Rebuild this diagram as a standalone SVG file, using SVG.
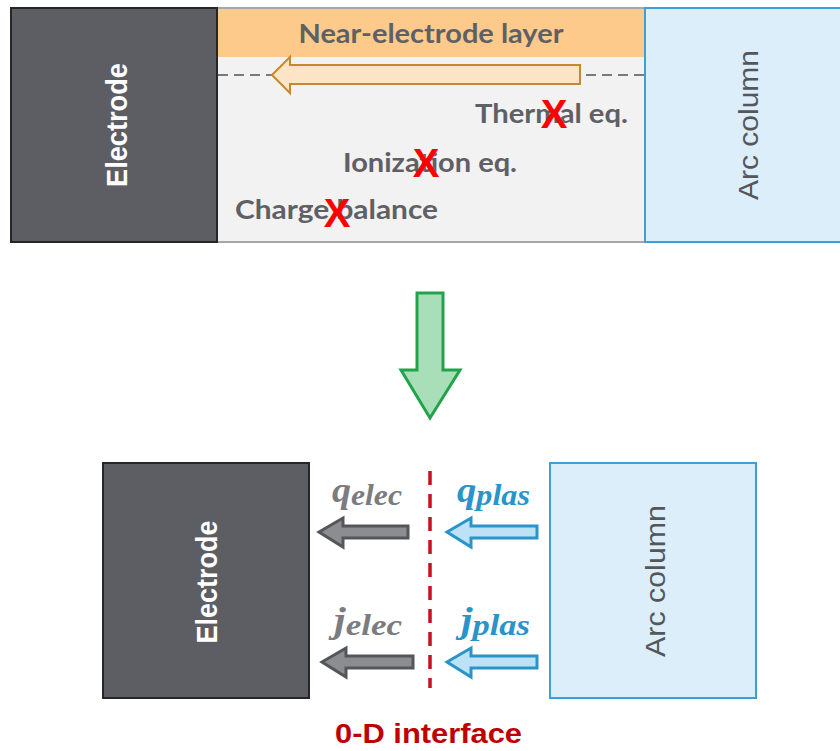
<svg xmlns="http://www.w3.org/2000/svg" width="840" height="751" viewBox="0 0 840 751">
<style>
.elec{fill:#5d5e63;stroke:#262626;stroke-width:2}
.arc{fill:#dbeefa;stroke:#3d9fd3;stroke-width:2}
.wlab{font-family:"Liberation Sans",Arial,sans-serif;font-weight:bold;fill:#ffffff;font-size:29px}
.alab{font-family:"Liberation Sans",Arial,sans-serif;fill:#55565a;font-size:28px}
.lat{font-family:Lato,"Liberation Sans",sans-serif;font-weight:bold;fill:#5f6066;font-size:26px}
.xm{font-family:"Liberation Sans",Arial,sans-serif;font-weight:bold;fill:#ff0000;font-size:40px;text-anchor:middle}
.math{font-family:"Liberation Serif","Times New Roman",serif;font-weight:bold;font-style:italic}
.garr{fill:#8c8d90;stroke:#55565a;stroke-width:3}
.barr{fill:#bde2f6;stroke:#2a93c9;stroke-width:3}
</style>
<rect x="0" y="0" width="840" height="751" fill="#ffffff"/>

<g id="top-layer">
  <rect x="217" y="8" width="428" height="234" fill="#f2f2f2" stroke="#a6a6a6" stroke-width="2"/>
  <rect x="218" y="9" width="426" height="48" fill="#fdca8b"/>
  <text class="lat" x="431" y="43" text-anchor="middle" font-size="25" textLength="265" lengthAdjust="spacingAndGlyphs">Near-electrode layer</text>
</g>

<g id="top-electrode">
  <rect class="elec" x="11" y="8" width="206" height="234"/>
  <text class="wlab" transform="translate(127,125) rotate(-90)" text-anchor="middle" textLength="124" lengthAdjust="spacingAndGlyphs">Electrode</text>
</g>

<g id="top-arc">
  <rect class="arc" x="645" y="8" width="200" height="234"/>
  <text class="alab" transform="translate(758,125) rotate(-90)" text-anchor="middle" textLength="150" lengthAdjust="spacingAndGlyphs">Arc column</text>
</g>

<g id="conditions">
  <text class="lat" x="475" y="123" textLength="153" lengthAdjust="spacingAndGlyphs">Thermal eq.</text>
  <text class="lat" x="343" y="172" textLength="174" lengthAdjust="spacingAndGlyphs">Ionization eq.</text>
  <text class="lat" x="235" y="219" textLength="203" lengthAdjust="spacingAndGlyphs">Charge balance</text>
  <text class="xm" x="554" y="128">X</text>
  <text class="xm" x="426" y="177">X</text>
  <text class="xm" x="337" y="227">X</text>
</g>

<g id="connectors">
  <line x1="218" y1="75" x2="644" y2="75" stroke="#7a7a7a" stroke-width="2" stroke-dasharray="10 6"/>
  <polygon points="272,75 290,57 290,65 580,65 580,84 290,84 290,93" fill="#fde4c6" stroke="#c58a2e" stroke-width="2"/>
  <polygon points="417,293 443,293 443,370 460,370 430,418 401,370 417,370" fill="#a9dfb8" stroke="#22a24a" stroke-width="3"/>
  <line x1="430" y1="471" x2="430" y2="688" stroke="#c8101e" stroke-width="3.5" stroke-dasharray="14 9"/>
  <polygon class="garr" points="319,532 343,518 343,526 408,526 408,538 343,538 343,547"/>
  <polygon class="garr" points="322,662 346,648 346,656 413,656 413,668 346,668 346,677"/>
  <polygon class="barr" points="447,532 471,518 471,526 537,526 537,538 471,538 471,547"/>
  <polygon class="barr" points="447,662 471,648 471,656 537,656 537,668 471,668 471,677"/>
</g>

<g id="labels">
  <text class="math" x="332" y="502" fill="#7b7c80" font-size="36" textLength="70" lengthAdjust="spacingAndGlyphs">q<tspan font-size="30" dy="3">elec</tspan></text>
  <text class="math" x="334" y="632" fill="#7b7c80" font-size="36" textLength="68" lengthAdjust="spacingAndGlyphs">j<tspan font-size="30" dy="3">elec</tspan></text>
  <text class="math" x="457" y="502" fill="#2a93c9" font-size="36" textLength="73" lengthAdjust="spacingAndGlyphs">q<tspan font-size="30" dy="3">plas</tspan></text>
  <text class="math" x="461" y="632" fill="#2a93c9" font-size="36" textLength="69" lengthAdjust="spacingAndGlyphs">j<tspan font-size="30" dy="3">plas</tspan></text>
</g>

<g id="bottom-electrode">
  <rect class="elec" x="103" y="463" width="206" height="235"/>
  <text class="wlab" transform="translate(217,582) rotate(-90)" text-anchor="middle" textLength="123" lengthAdjust="spacingAndGlyphs">Electrode</text>
</g>

<g id="bottom-arc">
  <rect class="arc" x="550" y="463" width="206" height="235"/>
  <text class="alab" transform="translate(665,581) rotate(-90)" text-anchor="middle" textLength="152" lengthAdjust="spacingAndGlyphs">Arc column</text>
</g>

<g id="interface-label">
  <text x="428.5" y="743" text-anchor="middle" font-family="'Liberation Sans',Arial,sans-serif" font-weight="bold" font-size="28" fill="#c00000" textLength="187" lengthAdjust="spacingAndGlyphs">0-D interface</text>
</g>
</svg>
